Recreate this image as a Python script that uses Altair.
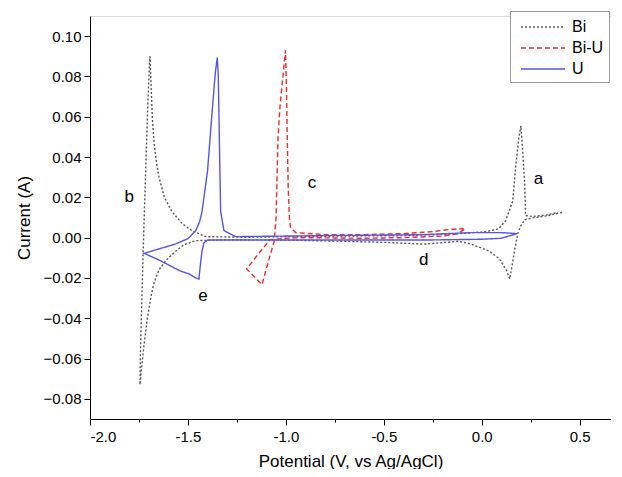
import altair as alt
import pandas as pd

# ---- data ----
bi_v = [0.41, 0.33, 0.26, 0.22, 0.20, 0.185, 0.17, 0.155, 0.143, 0.125, 0.09, 0.04, 0.0, -0.06, -0.12,
        -0.2, -0.3, -0.45, -0.7, -1.0, -1.3, -1.46, -1.52, -1.56, -1.61, -1.648, -1.675, -1.69, -1.71,
        -1.724, -1.737, -1.745,
        -1.742, -1.735, -1.728, -1.72, -1.712, -1.704, -1.697, -1.694, -1.688, -1.682, -1.673, -1.66,
        -1.648, -1.62, -1.582, -1.53, -1.48, -1.41, -1.2, -1.0, -0.7, -0.4, -0.15, 0.0, 0.05, 0.087,
        0.122, 0.158, 0.173, 0.19, 0.20, 0.209, 0.219, 0.224, 0.26, 0.33, 0.39]
bi_i = [0.0125, 0.0108, 0.0098, 0.0090, 0.0060, 0.0025, -0.005, -0.014, -0.0205, -0.016, -0.0105, -0.0068,
        -0.0052, -0.0030, -0.0018, -0.0025, -0.0032, -0.0025, -0.0018, -0.0012, -0.0010, -0.0015, -0.0035,
        -0.0065, -0.011, -0.016, -0.023, -0.030, -0.042, -0.053, -0.065, -0.073,
        -0.055, -0.030, -0.005, 0.020, 0.045, 0.068, 0.085, 0.090, 0.075, 0.060, 0.047, 0.037,
        0.030, 0.020, 0.013, 0.007, 0.0035, 0.0005, 0.0002, 0.0005, 0.0008, 0.0010, 0.0018, 0.0028, 0.0035,
        0.0045, 0.0084, 0.018, 0.035, 0.050, 0.0555, 0.043, 0.027, 0.011, 0.0105, 0.0112, 0.0125]

biu_v = [-0.09, -0.12, -0.2, -0.4, -0.6, -0.9, -1.0, -1.08, -1.14, -1.2,
         -1.122, -1.09, -1.06, -1.05, -1.045, -1.04, -1.03, -1.015, -1.002, -0.997, -0.993, -0.988,
         -0.982, -0.976, -0.95, -0.8, -0.6, -0.4, -0.25, -0.15, -0.10, -0.09]
biu_i = [0.004, 0.002, 0.0008, 0.0, -0.0003, 0.0, -0.0003, -0.001, -0.008, -0.0155,
         -0.0233, -0.012, -0.002, 0.010, 0.030, 0.050, 0.065, 0.080, 0.093, 0.075, 0.050, 0.025,
         0.010, 0.005, 0.0025, 0.0015, 0.0015, 0.002, 0.003, 0.0042, 0.0045, 0.004]

u_v = [0.18, 0.1, 0.0, -0.3, -0.7, -1.0, -1.3, -1.40, -1.418, -1.428, -1.437, -1.444, -1.46, -1.495,
       -1.54, -1.58, -1.65, -1.724,
       -1.68, -1.62, -1.56, -1.50, -1.46, -1.44, -1.428, -1.40, -1.376, -1.36, -1.35, -1.345, -1.342,
       -1.338, -1.333, -1.316, -1.257, -1.0, -0.6, -0.3, -0.05, 0.1, 0.18]
u_i = [0.002, -0.0003, -0.0008, -0.0012, -0.0012, -0.0012, -0.0012, -0.0012, -0.0025, -0.0065, -0.014,
       -0.0205, -0.020, -0.018, -0.0165, -0.0145, -0.011, -0.0078,
       -0.0065, -0.0048, -0.003, -0.0005, 0.0035, 0.008, 0.013, 0.033, 0.063, 0.082, 0.0894, 0.080,
       0.063, 0.040, 0.013, 0.0035, 0.0005, 0.0008, 0.0012, 0.0015, 0.0025, 0.0025, 0.002]

series_names = ["Bi", "Bi-U", "U"]
series_colors = ["#555555", "#ee2a2a", "#5555ea"]
series_dash = [[2, 2], [5, 3], [1, 0]]

ann_text = ["a", "b", "c", "d", "e"]
ann_v = [0.29, -1.80, -0.867, -0.296, -1.423]
ann_i = [0.029, 0.020, 0.027, -0.011, -0.029]

x_ticks = [-2.0, -1.75, -1.5, -1.25, -1.0, -0.75, -0.5, -0.25, 0.0, 0.25, 0.5]
y_ticks = [-0.08, -0.06, -0.04, -0.02, 0.0, 0.02, 0.04, 0.06, 0.08, 0.10]

rows = []
for name, vs, cs in [("Bi", bi_v, bi_i), ("Bi-U", biu_v, biu_i), ("U", u_v, u_i)]:
    for k, (v, c) in enumerate(zip(vs, cs)):
        rows.append({"series": name, "V": v, "I": c, "k": k})
df = pd.DataFrame(rows)
ann = pd.DataFrame({"t": ann_text, "V": ann_v, "I": ann_i})

FONT = "Liberation Sans"
xdom = [-2.0, 0.66]
ydom = [-0.09, 0.11]

xs = alt.Scale(domain=xdom, nice=False, zero=False)
ys = alt.Scale(domain=ydom, nice=False, zero=False)

x_major_test = "abs(round(datum.value * 4)) % 2 == 0"

lines = alt.Chart(df).mark_line(strokeWidth=1.4, clip=True).encode(
    x=alt.X("V:Q", scale=xs,
            axis=alt.Axis(values=x_ticks, title="Potential (V, vs Ag/AgCl)", labelOverlap=False,
                          labelExpr=f"({x_major_test}) ? replace(format(datum.value, '.1f'), '\u2212', '-') : ''",
                          tickSize={"condition": {"test": x_major_test, "value": 6}, "value": 3},
                          orient="bottom", grid=False, tickColor="black",
                          domainColor="black", labelFontSize=15, titleFontSize=17,
                          labelFont=FONT, titleFont=FONT, titleFontWeight="normal",
                          labelColor="black", titleColor="black", labelPadding=4, titlePadding=9)),
    y=alt.Y("I:Q", scale=ys,
            axis=alt.Axis(values=y_ticks, format=".2f", title="Current (A)", orient="left",
                          labelOverlap=False, tickSize=6,
                          grid=False, tickColor="black", domainColor="black",
                          labelFontSize=15, titleFontSize=17, labelFont=FONT, titleFont=FONT,
                          titleFontWeight="normal", labelColor="black", titleColor="black",
                          labelPadding=3, titlePadding=10)),
    color=alt.Color("series:N", scale=alt.Scale(domain=series_names, range=series_colors),
                    legend=alt.Legend(title=None, orient="none", legendX=420, legendY=-5,
                                      symbolType="M-2.2,0H2.2", symbolSize=400, symbolStrokeWidth=1.5,
                                      symbolOffset=17, labelOffset=18,
                                      labelFontSize=16, labelFont=FONT, labelColor="black",
                                      strokeColor="#999999", fillColor="white", padding=5,
                                      rowPadding=2, cornerRadius=0)),
    strokeDash=alt.StrokeDash("series:N", scale=alt.Scale(domain=series_names, range=series_dash),
                              legend=None),
    order="k:Q",
    detail="series:N",
)

labels = alt.Chart(ann).mark_text(fontSize=17, font=FONT, color="black").encode(
    x=alt.X("V:Q", scale=xs), y=alt.Y("I:Q", scale=ys), text="t:N"
)

chart = alt.layer(lines, labels).properties(
    width=521, height=403, padding={"left": 7, "top": 2, "right": 0, "bottom": 0}
).configure_view(stroke=None).configure(background="white")

chart.save("out.html", embed_options={"renderer": "svg", "actions": False})
